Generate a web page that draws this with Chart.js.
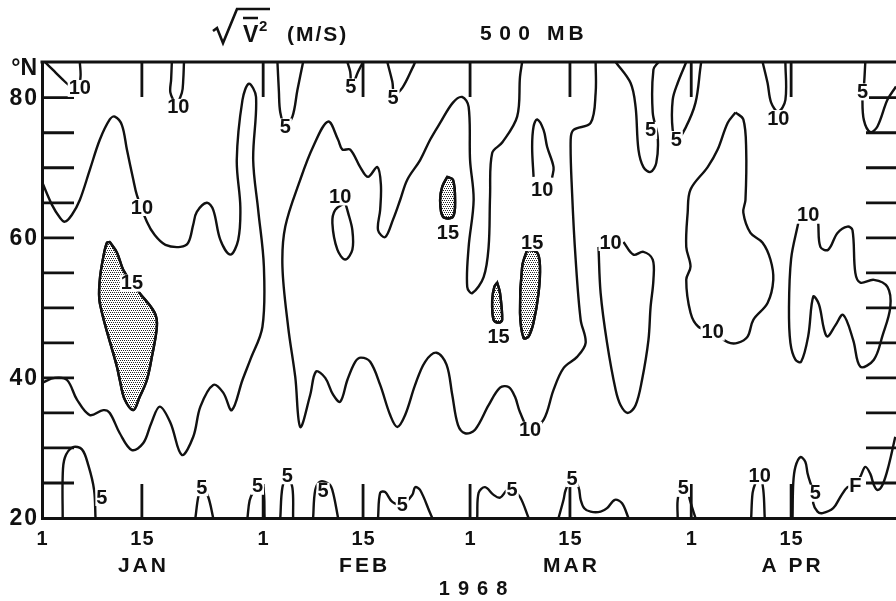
<!DOCTYPE html>
<html lang="en">
<head>
  <meta charset="UTF-8">
  <title>√V² (M/S) 500 MB</title>
  <script src="https://cdn.jsdelivr.net/npm/chart.js"></script>
  <style>
    html, body { margin: 0; padding: 0; background: #fff; }
    #wrap { position: relative; width: 896px; height: 601px; }
  </style>
</head>
<body>
<div id="wrap"><canvas id="chart"></canvas></div>
<script>
  // x = days since 1 Jan 1968, y = latitude (deg N)
  const dateTicks = [0, 14, 31, 45, 60, 74, 91, 105];
  const dateLabels = ['1', '15', '1', '15', '1', '15', '1', '15'];
  const monthLabels = [[14, 'JAN'], [45, 'FEB'], [74, 'MAR'], [105, 'A PR']];
  const yearLabel = [60, '1968'];
  const latTicks = [25, 30, 35, 40, 45, 50, 55, 60, 65, 70, 75, 80];
  const latLabels = [20, 40, 60, 80];

  // contour lines [day, lat]
  const contourNW10 = [[0.4,85.1],[1.5,84.0],[2.8,82.7],[3.8,81.8],[5.0,81.4],[5.4,83.0],[5.3,85.1]];
  const contourJan15Top10 = [[18.2,85.1],[18.1,82.6],[18.0,80.7],[18.8,79.3],[19.6,80.7],[19.8,82.6],[19.9,85.1]];
  const contourJan10 = [[0,68.0],[1.4,64.7],[2.5,62.9],[3.2,62.3],[4.2,63.3],[5.3,65.4],[6.7,69.7],[8.1,74.0],[9.5,76.9],[10.2,77.3],[11.2,76.1],[11.9,72.6],[12.8,68.3],[13.3,66.1],[14.7,62.3],[15.8,60.4],[17.3,59.0],[19.4,58.7],[20.5,59.3],[21.2,61.9],[21.7,63.7],[23.1,65.0],[24.0,64.0],[25.0,59.7],[26.4,57.6],[27.5,59.7],[27.8,64.4],[27.3,71.1],[28.1,79.7],[29.0,82.0],[30.0,80.1],[29.6,71.1],[30.3,64.0],[31.1,55.9],[30.9,47.3],[29.2,42.6],[28.1,39.7],[26.6,35.4],[25.4,37.9],[24.0,39.0],[22.2,35.9],[21.2,31.6],[19.6,29.0],[18.0,33.6],[16.5,35.9],[15.3,33.5],[14.2,30.7],[12.6,29.7],[10.9,32.1],[9.5,35.0],[8.6,35.4],[6.7,34.7],[4.9,36.9],[3.5,39.7],[1.8,40.0],[0,39.3]];
  const contourFeb1Top5 = [[33.0,85.1],[33.2,81.0],[33.4,77.9],[34.1,76.0],[35.1,77.3],[35.8,81.1],[36.6,85.1]];
  const contourFeb12Top5 = [[42.8,85.1],[43.2,83.7],[43.4,81.6],[44.3,83.7],[45.0,85.1]];
  const contourFeb19Top5 = [[48.4,85.1],[49.1,82.3],[49.4,80.5],[50.5,81.4],[52.0,84.4],[52.3,85.1]];
  const contourFebMar10 = [[67.3,85.1],[67.0,83.0],[66.6,77.3],[64.5,73.6],[63.1,72.1],[62.8,65.9],[62.6,58.7],[61.9,54.4],[60.3,52.1],[59.6,53.0],[59.8,58.7],[60.5,65.4],[60.0,71.1],[59.8,78.7],[58.9,80.1],[57.6,79.3],[55.8,76.4],[54.4,74.0],[53.0,71.1],[51.2,68.3],[50.2,65.4],[49.2,62.6],[48.1,60.1],[47.1,61.1],[47.4,64.0],[47.5,67.6],[47.0,70.1],[45.7,68.7],[44.6,70.1],[43.2,72.6],[42.1,72.6],[41.5,74.0],[40.1,76.6],[38.0,73.0],[36.2,68.3],[34.1,61.6],[33.7,55.9],[34.5,47.3],[35.5,40.1],[36.2,33.0],[37.6,37.6],[38.4,40.9],[39.7,40.0],[40.8,37.6],[41.8,36.6],[42.8,39.7],[43.9,42.3],[44.7,42.9],[46.0,42.3],[47.4,39.0],[48.8,34.7],[49.8,33.0],[50.9,34.7],[52.3,39.0],[53.7,42.3],[55.3,43.6],[56.7,41.9],[57.5,37.6],[58.3,33.3],[59.3,32.1],[60.7,32.6],[62.6,36.1],[64.2,38.6],[65.4,38.7],[66.3,37.3],[67.0,35.1],[68.4,32.6],[70.3,34.0],[71.7,38.3],[73.1,41.4],[75.0,43.0],[76.2,45.0],[75.5,48.3],[74.8,56.9],[74.3,66.4],[74.1,74.0],[74.5,75.4],[76.9,76.4],[77.6,80.7],[77.6,85.1]];
  const contourFeb13Ring10 = [[42.5,65.0],[41.1,64.0],[40.7,62.1],[41.4,58.3],[42.5,56.9],[43.5,58.3],[43.5,61.1],[42.9,63.6],[42.5,65.0]];
  const contourMar12Ring10 = [[68.9,68.7],[68.7,73.0],[68.9,75.9],[69.4,76.9],[70.3,75.4],[70.8,73.0],[71.7,70.1],[71.5,68.6]];
  const contourMar20Tongue10 = [[78.0,58.7],[78.3,52.1],[79.2,45.0],[80.4,38.3],[81.1,36.1],[82.1,35.0],[83.2,36.1],[84.1,39.7],[85.0,45.4],[85.3,50.1],[85.7,54.0],[85.6,56.9],[84.3,58.0],[82.9,57.6],[81.5,59.4]];
  const contourMar20Top5 = [[80.4,85.1],[82.5,82.1],[83.2,78.7],[83.6,72.6],[84.3,70.1],[85.3,69.4],[86.1,70.7],[86.3,74.4],[85.6,77.9],[85.7,84.0],[86.4,85.1]];
  const contourMar28Top5 = [[90.3,85.1],[89.1,82.1],[88.4,79.7],[88.4,75.4],[89.0,74.0],[90.2,75.7],[91.6,79.3],[92.3,84.4],[92.4,85.1]];
  const contourApr12Top10 = [[101.0,85.1],[101.7,82.1],[102.2,79.3],[103.2,78.0],[104.2,79.7],[104.2,85.1]];
  const contourApr10 = [[97.2,77.9],[98.3,76.9],[98.7,72.6],[98.6,65.4],[98.3,63.6],[99.3,60.7],[101.0,59.3],[102.1,56.9],[102.5,54.0],[101.7,50.7],[99.7,48.3],[98.9,45.9],[97.5,45.0],[96.1,45.1],[94.0,46.6],[92.0,47.3],[90.9,49.3],[90.3,54.0],[90.9,55.9],[90.3,58.7],[90.5,63.6],[90.9,66.9],[93.3,70.1],[94.7,72.6],[96.1,76.4],[97.2,77.9]];
  const contourApr20Ten = [[106.0,62.1],[105.0,57.0],[104.7,50.0],[104.9,45.0],[105.6,42.6],[106.4,42.3],[107.4,46.0],[108.1,51.6],[108.9,50.5],[109.6,47.0],[110.1,45.9],[111.2,47.5],[112.3,49.0],[113.7,45.4],[114.7,41.6],[116.6,42.6],[117.8,46.0],[118.9,50.1],[118.5,53.0],[116.6,54.0],[114.7,53.6],[114.0,55.0],[113.6,61.1],[112.9,61.6],[111.5,60.7],[110.2,58.3],[109.1,58.7],[108.8,62.1]];
  const contourApr25Top5 = [[115.4,85.1],[115.2,81.6],[115.0,80.0],[115.2,76.8],[116.1,75.1],[117.1,75.9],[118.5,79.7],[119.7,81.6]];

  const contourJan5Bot = [[2.9,20.0],[2.9,26.0],[3.2,28.6],[4.3,30.1],[5.6,29.8],[6.5,27.5],[7.3,24.0],[7.5,20.0]];
  const contourJan23Bot = [[21.5,20.0],[21.9,23.0],[22.4,24.6],[23.3,23.0],[24.0,20.0]];
  const contourJan30Bot = [[28.8,20.0],[29.1,22.5],[29.6,23.7],[30.3,24.6],[31.0,24.4],[31.2,20.0]];
  const contourFeb3Bot = [[33.4,20.0],[33.7,24.4],[34.4,26.0],[35.1,24.3],[35.2,20.0]];
  const contourFeb10Bot = [[38.0,20.0],[38.3,24.0],[39.0,25.2],[40.3,24.8],[40.8,23.6],[41.5,20.0]];
  const contourFeb20Bot = [[47.1,20.0],[47.4,23.6],[48.1,23.7],[49.1,22.3],[50.5,21.9],[51.9,23.3],[52.3,24.4],[53.0,24.0],[54.4,20.7],[54.7,20.0]];
  const contourMar5Bot = [[61.0,20.0],[61.2,23.6],[62.1,24.4],[63.3,23.3],[64.2,22.9],[65.2,24.0],[65.9,24.0],[67.0,23.0],[68.2,20.0]];
  const contourMar15Bot = [[72.4,20.0],[73.1,22.6],[73.4,24.0],[74.3,25.7],[75.2,24.4],[75.5,22.6],[76.0,21.4],[76.9,20.9],[78.3,20.9],[79.2,21.4],[80.3,22.6],[81.3,22.1],[82.2,20.0]];
  const contourMar31Bot = [[89.1,20.0],[89.1,22.6],[89.6,24.4],[90.4,24.4],[90.8,22.6],[91.6,20.0]];
  const contourApr13Bot10 = [[99.4,20.0],[99.6,23.6],[100.0,25.0],[100.6,26.3],[101.1,24.0],[101.3,20.0]];
  const contourApr16Bot = [[105.2,20.0],[105.3,25.0],[105.6,27.3],[106.3,28.7],[107.0,28.0],[107.3,26.4],[107.7,25.0],[108.2,23.6],[108.1,22.1],[108.7,20.9],[109.4,20.7],[110.9,21.4],[111.9,23.0],[112.9,24.4],[114.0,24.7],[114.7,25.9],[115.4,27.3],[116.1,26.3],[116.6,24.7],[117.1,24.0],[117.8,24.7],[118.7,27.6],[119.6,31.6]];

  // stippled areas above 15 m/s
  const stippleJan15 = [[9.5,59.4],[10.5,57.9],[11.4,55.4],[12.6,53.6],[13.7,52.1],[15.8,49.3],[16.1,47.3],[15.4,43.0],[14.7,39.7],[13.7,37.3],[12.8,35.4],[11.6,36.9],[10.9,39.7],[10.5,41.6],[8.1,50.7],[8.1,54.0],[8.6,57.3],[9.1,59.3],[9.5,59.4]];
  const stippleFeb24 = [[56.8,68.7],[57.6,68.3],[57.9,65.4],[57.6,63.0],[56.2,63.0],[55.8,65.4],[56.1,67.3],[56.8,68.7]];
  const stippleMar4 = [[63.8,53.6],[64.2,52.1],[64.5,48.3],[64.1,47.9],[63.3,48.3],[63.1,51.1],[63.4,53.0],[63.8,53.6]];
  const stippleMar10 = [[68.0,58.3],[69.4,57.9],[69.8,55.9],[69.6,52.1],[68.9,47.9],[68.2,45.9],[67.5,45.7],[67.0,49.3],[67.3,55.9],[68.0,58.3]];

  // contour value labels [day, lat, text]
  const contourLabels = [
    [5.3,81.4,'10'],[19.1,78.7,'10'],[14.0,64.4,'10'],[12.6,53.6,'15'],
    [34.1,75.9,'5'],[43.3,81.6,'5'],[49.2,80.1,'5'],[41.8,65.9,'10'],
    [56.9,60.7,'15'],[64.0,45.9,'15'],[68.7,59.4,'15'],[70.1,66.9,'10'],
    [68.4,32.6,'10'],[79.7,59.4,'10'],[85.3,75.4,'5'],[88.9,74.1,'5'],
    [103.2,77.1,'10'],[94.0,46.6,'10'],[107.4,63.3,'10'],[115.0,80.9,'5'],
    [8.4,23.0,'5'],[22.4,24.4,'5'],[30.2,24.6,'5'],[34.4,26.1,'5'],
    [39.4,23.9,'5'],[50.5,21.9,'5'],[65.9,24.0,'5'],[74.3,25.7,'5'],
    [89.9,24.3,'5'],[100.6,26.1,'10'],[108.4,23.6,'5'],[114.0,24.7,'F']
  ];

  const lines = [contourNW10, contourJan15Top10, contourJan10, contourFeb1Top5, contourFeb12Top5,
    contourFeb19Top5, contourFebMar10, contourFeb13Ring10, contourMar12Ring10, contourMar20Tongue10,
    contourMar20Top5, contourMar28Top5, contourApr12Top10, contourApr10, contourApr20Ten, contourApr25Top5,
    contourJan5Bot, contourJan23Bot, contourJan30Bot, contourFeb3Bot, contourFeb10Bot, contourFeb20Bot,
    contourMar5Bot, contourMar15Bot, contourMar31Bot, contourApr13Bot10, contourApr16Bot];
  const stipples = [stippleJan15, stippleFeb24, stippleMar4, stippleMar10];

  const ink = '#111';
  const face = '"Liberation Sans", "DejaVu Sans", Arial, sans-serif';

  function toXY(arr) { return arr.map(([x, y]) => ({x, y})); }

  const datasets = lines.map(l => ({ data: toXY(l) }))
    .concat(stipples.map(s => ({ data: toXY(s), stipple: true })));

  // dotted fill for the > 15 areas
  const tile = document.createElement('canvas');
  tile.width = 4; tile.height = 4;
  const tg = tile.getContext('2d');
  tg.fillStyle = '#222';
  tg.fillRect(0, 0, 1, 1); tg.fillRect(2, 0, 1, 1);
  tg.fillRect(1, 2, 1, 1); tg.fillRect(3, 2, 1, 1);

  function spaced(ctx, str, x, y, gap, align) {
    const chars = [...str];
    const w = chars.map(c => ctx.measureText(c).width);
    const total = w.reduce((a, b) => a + b, 0) + gap * (chars.length - 1);
    let cx = align === 'center' ? x - total / 2 : align === 'right' ? x - total : x;
    ctx.textAlign = 'left';
    chars.forEach((c, i) => { ctx.fillText(c, cx, y); cx += w[i] + gap; });
  }

  const decor = {
    id: 'decor',
    afterDatasetsDraw(chart) {
      const {ctx, chartArea: a, scales: {x, y}} = chart;
      const pattern = ctx.createPattern(tile, 'repeat');

      // stippled areas
      chart.data.datasets.forEach((ds, i) => {
        if (!ds.stipple) return;
        const line = chart.getDatasetMeta(i).dataset;
        ctx.save();
        ctx.beginPath();
        line.path(ctx);
        ctx.closePath();
        ctx.fillStyle = pattern;
        ctx.fill();
        ctx.lineWidth = 2.4;
        ctx.strokeStyle = ink;
        ctx.stroke();
        ctx.restore();
      });

      // frame top and inward ticks
      ctx.save();
      ctx.strokeStyle = ink;
      ctx.lineWidth = 2.8;
      ctx.beginPath();
      ctx.moveTo(a.left - 1.5, a.top);
      ctx.lineTo(a.right, a.top);
      latTicks.forEach(v => {
        const py = y.getPixelForValue(v);
        ctx.moveTo(a.left, py); ctx.lineTo(a.left + 32, py);
        ctx.moveTo(a.right - 30, py); ctx.lineTo(a.right, py);
      });
      dateTicks.forEach(d => {
        if (d === 0) return;
        const px = x.getPixelForValue(d);
        ctx.moveTo(px, a.top); ctx.lineTo(px, a.top + 35);
        ctx.moveTo(px, a.bottom); ctx.lineTo(px, a.bottom - 34);
      });
      ctx.stroke();
      ctx.restore();

      // contour labels
      ctx.save();
      ctx.font = 'bold 20px ' + face;
      ctx.textAlign = 'center';
      ctx.textBaseline = 'middle';
      contourLabels.forEach(([d, v, t]) => {
        const px = x.getPixelForValue(d), py = y.getPixelForValue(v);
        const w = ctx.measureText(t).width;
        ctx.fillStyle = '#fff';
        ctx.fillRect(px - w / 2 - 1, py - 8, w + 2, 17);
        ctx.fillStyle = ink;
        ctx.fillText(t, px, py + 1);
      });
      ctx.restore();
    },
    afterDraw(chart) {
      const {ctx, scales: {x, y}} = chart;
      ctx.save();
      ctx.fillStyle = ink;
      ctx.textBaseline = 'middle';

      // latitude labels
      ctx.font = 'bold 23px ' + face;
      latLabels.forEach(v => spaced(ctx, String(v), 37, y.getPixelForValue(v) + 1, 2, 'right'));
      ctx.textBaseline = 'alphabetic';
      spaced(ctx, '°N', 37, 75, 0, 'right');

      // date labels
      ctx.font = 'bold 20px ' + face;
      dateTicks.forEach((d, i) => spaced(ctx, dateLabels[i], x.getPixelForValue(d), 545, 1, 'center'));
      ctx.font = 'bold 21px ' + face;
      monthLabels.forEach(([d, t]) => spaced(ctx, t, x.getPixelForValue(d), 572, 3, 'center'));
      ctx.font = 'bold 20px ' + face;
      spaced(ctx, yearLabel[1], x.getPixelForValue(yearLabel[0]) + 3, 595, 8, 'center');

      // title
      ctx.lineWidth = 2.6;
      ctx.strokeStyle = ink;
      ctx.beginPath();
      ctx.moveTo(213, 31); ctx.lineTo(217, 28); ctx.lineTo(223, 43);
      ctx.lineTo(237, 9); ctx.lineTo(270, 9);
      ctx.moveTo(243, 18); ctx.lineTo(258, 18);
      ctx.stroke();
      ctx.font = 'bold 23px ' + face;
      ctx.fillText('V', 243, 42);
      ctx.font = 'bold 15px ' + face;
      ctx.fillText('2', 259, 31);
      ctx.font = 'bold 21px ' + face;
      spaced(ctx, '(M/S)', 287, 41, 2, 'left');
      spaced(ctx, '500', 480, 40, 7.5, 'left');
      spaced(ctx, 'MB', 547, 40, 4, 'left');
      ctx.restore();
    }
  };

  new Chart(document.getElementById('chart'), {
    type: 'line',
    data: { datasets },
    options: {
      responsive: true,
      maintainAspectRatio: false,
      animation: false,
      devicePixelRatio: 1,
      events: [],
      layout: { padding: { top: 62, right: 0, left: 0, bottom: 0 } },
      elements: {
        line: { borderColor: ink, borderWidth: 2.4, tension: 0.35, fill: false, capBezierPoints: true },
        point: { radius: 0 }
      },
      plugins: { legend: { display: false }, tooltip: { enabled: false }, title: { display: false } },
      scales: {
        x: {
          type: 'linear', min: 0, max: 119.7,
          grid: { display: false, drawTicks: false },
          border: { display: true, color: ink, width: 3 },
          ticks: { display: false },
          afterFit(s) { s.height = 83; }
        },
        y: {
          type: 'linear', min: 20, max: 85.1,
          grid: { display: false, drawTicks: false },
          border: { display: true, color: ink, width: 3 },
          ticks: { display: false },
          afterFit(s) { s.width = 42; }
        }
      }
    },
    plugins: [decor]
  });
</script>
</body>
</html>
